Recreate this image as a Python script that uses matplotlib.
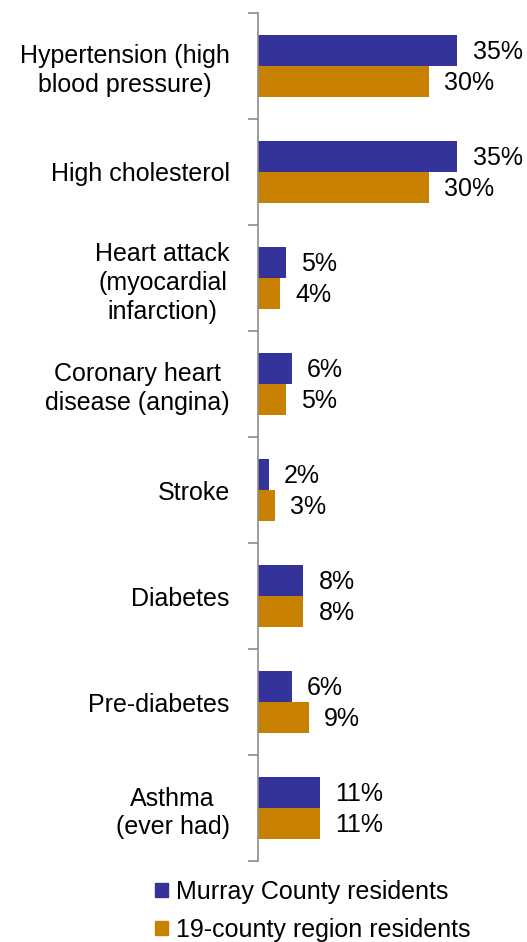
import matplotlib
matplotlib.use("Agg")
import matplotlib.pyplot as plt
from matplotlib.patches import Patch
import numpy as np

plt.rcParams["font.family"] = ["Liberation Sans", "DejaVu Sans"]

conditions = [
    "Hypertension (high\nblood pressure)",
    "High cholesterol",
    "Heart attack\n(myocardial\ninfarction)",
    "Coronary heart\ndisease (angina)",
    "Stroke",
    "Diabetes",
    "Pre-diabetes",
    "Asthma\n(ever had)",
]
murray = [35, 35, 5, 6, 2, 8, 6, 11]
region = [30, 30, 4, 5, 3, 8, 9, 11]
series_names = ["Murray County residents", "19-county region residents"]

NAVY = "#333399"
ORANGE = "#C88000"
FS = 18

W, H = 527, 942
fig = plt.figure(figsize=(W / 100, H / 100), dpi=100)
ax = fig.add_axes([257.5 / W, 1 - 861 / H, 1 - 257.5 / W, (861 - 13) / H])

y = np.arange(len(conditions))
bh = 0.29
ax.barh(y - bh / 2, murray, height=bh, color=NAVY)
ax.barh(y + bh / 2, region, height=bh, color=ORANGE)

for yi, (m, r) in enumerate(zip(murray, region)):
    ax.annotate(f"{m}%", (m, yi - bh / 2), xytext=(11, -1), textcoords="offset points",
                ha="left", va="center", fontsize=FS)
    ax.annotate(f"{r}%", (r, yi + bh / 2), xytext=(11, -1), textcoords="offset points",
                ha="left", va="center", fontsize=FS)

ax.set_xlim(0, 47.2)
ax.set_ylim(len(conditions) - 0.5, -0.5)

# category labels sit between the boundary ticks
ax.set_yticks(y)
ax.set_yticklabels(conditions, fontsize=FS, linespacing=1.25, multialignment="center")
ax.tick_params(axis="y", which="major", length=0, pad=20)
ax.set_yticks(np.arange(-0.5, len(conditions)), minor=True)
ax.tick_params(axis="y", which="minor", length=7, width=1.2, color="#8c8c8c")

ax.set_xticks([])
for side in ("top", "right", "bottom"):
    ax.spines[side].set_visible(False)
ax.spines["left"].set_color("#8c8c8c")
ax.spines["left"].set_linewidth(1.2)

handles = [Patch(color=NAVY), Patch(color=ORANGE)]
fig.legend(handles, series_names, loc="upper left",
           bbox_to_anchor=(155 / W, 1 - 880 / H), frameon=False, fontsize=FS,
           handlelength=0.52, handleheight=0.52, handletextpad=0.3,
           labelspacing=0.55, borderpad=0, borderaxespad=0)

fig.savefig("out.png", dpi=100)
